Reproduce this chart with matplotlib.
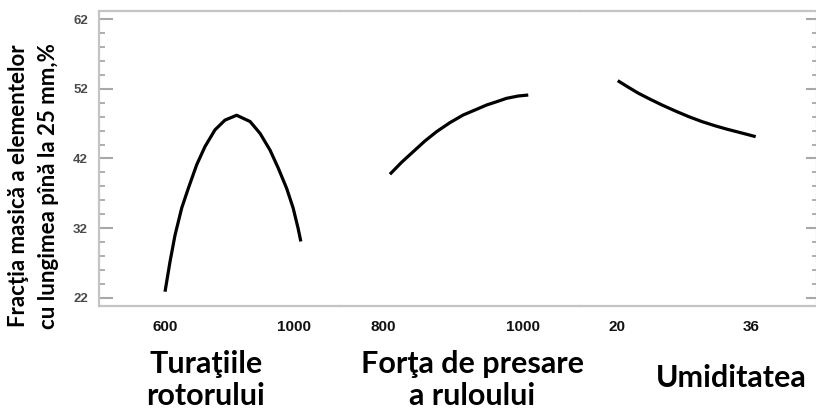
import matplotlib
matplotlib.use('Agg')
import matplotlib.pyplot as plt
from matplotlib.ticker import MultipleLocator

# Turaţiile rotorului (rpm) vs fracţia masică, %
turatii_x = [600, 615.5, 631, 651.8, 672.2, 698.3, 724, 755, 786, 822.3,
             864, 895, 926, 951.7, 977.7, 997.7, 1013, 1021.6]
turatii_y = [22.9, 27.2, 31.0, 34.9, 37.7, 41.1, 43.7, 46.1, 47.5, 48.2,
             47.3, 45.6, 43.2, 40.6, 37.7, 34.9, 32.0, 30.1]

# Forţa de presare a ruloului
forta_x = [810.0, 826.7, 843.3, 860.0, 876.7, 895.7, 914.7, 931.4, 948.1,
           962.4, 976.7, 993.3, 1007.6]
forta_y = [39.74, 41.46, 42.98, 44.51, 45.85, 47.14, 48.24, 48.95, 49.67,
           50.14, 50.63, 50.96, 51.10]

# Umiditatea, %
umid_x = [20.08, 21.36, 22.56, 23.97, 25.38, 26.98, 28.58, 30.19, 31.79,
          33.20, 34.59, 36.60]
umid_y = [53.16, 52.21, 51.35, 50.49, 49.67, 48.81, 48.00, 47.28, 46.67,
          46.19, 45.76, 45.13]

turatii_ticks = [600, 1000]
forta_ticks = [800, 1000]
umid_ticks = [20, 36]
y_ticks = [22, 32, 42, 52, 62]

fig = plt.figure(figsize=(8.16, 4.15), dpi=100)

bottom, height = 0.2627, 0.7108
ax1 = fig.add_axes([0.1213, bottom, 0.2953, height])
ax2 = fig.add_axes([0.4166, bottom, 0.2941, height], sharey=ax1)
ax3 = fig.add_axes([0.7107, bottom, 0.2905, height], sharey=ax1)

spine_col = '#c4c4c4'
tick_col = '#a8a8a8'

for ax, xs, ys, ticks, xlim in [
        (ax1, turatii_x, turatii_y, turatii_ticks, (395, 1143)),
        (ax2, forta_x, forta_y, forta_ticks, (738.6, 1081.4)),
        (ax3, umid_x, umid_y, umid_ticks, (15.55, 43.94))]:
    ax.plot(xs, ys, color='black', lw=2.3, solid_capstyle='butt',
            solid_joinstyle='round')
    ax.set_xlim(*xlim)
    ax.set_xticks(ticks)
    ax.set_xticklabels([str(t) for t in ticks], fontfamily='Liberation Sans',
                       fontweight='bold', fontsize=11, color='#111111')
    ax.tick_params(axis='x', length=0, pad=10)
    for s in ax.spines.values():
        s.set_color(spine_col)
        s.set_linewidth(1.6)

ax1.set_ylim(20.85, 63.15)
ax1.set_yticks(y_ticks)
ax1.yaxis.set_minor_locator(MultipleLocator(2))

ax1.spines['right'].set_visible(False)
ax2.spines['left'].set_visible(False)
ax2.spines['right'].set_visible(False)
ax3.spines['left'].set_visible(False)

ax1.tick_params(axis='y', which='major', direction='in', length=10, width=1.5,
                color=tick_col, pad=8, labelsize=9.5, labelcolor='#4a4a4a')
ax1.tick_params(axis='y', which='minor', direction='in', length=4.3, width=1.3,
                color=tick_col)
for lab in ax1.get_yticklabels():
    lab.set_fontfamily('Liberation Sans')
    lab.set_fontweight('bold')

ax2.tick_params(axis='y', which='both', left=False, labelleft=False)
ax3.tick_params(axis='y', which='both', left=False, labelleft=False,
                right=True, direction='in', color=tick_col)
ax3.tick_params(axis='y', which='major', length=8, width=1.5)
ax3.tick_params(axis='y', which='minor', length=3.5, width=1.3)

lab_font = dict(family='Lato', weight='bold', color='black')
fig.text(19 / 816, 1 - 186 / 415, 'Fracţia masică a elementelor', rotation=90,
         ha='center', va='center', fontsize=16, **lab_font)
fig.text(49 / 816, 1 - 186 / 415, 'cu lungimea pînă la 25 mm,%', rotation=90,
         ha='center', va='center', fontsize=16, **lab_font)

fig.text(206 / 816, 1 - 380 / 415, 'Turaţiile\nrotorului', ha='center',
         va='center', fontsize=22, linespacing=1.15, **lab_font)
fig.text(472 / 816, 1 - 380 / 415, 'Forţa de presare\na ruloului', ha='center',
         va='center', fontsize=22, linespacing=1.15, **lab_font)
fig.text(731 / 816, 1 - 378 / 415, 'Umiditatea', ha='center',
         va='center', fontsize=22, **lab_font)

fig.savefig('out.png', dpi=100, facecolor='white')
